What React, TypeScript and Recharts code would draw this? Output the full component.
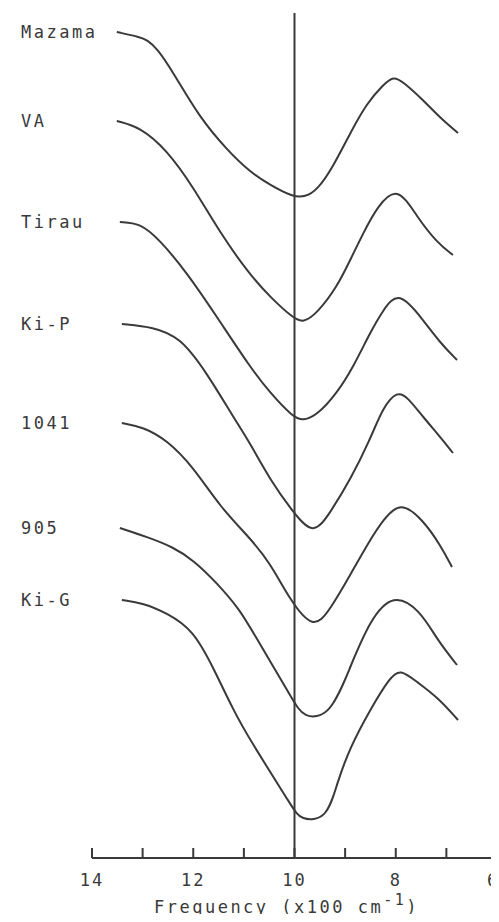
import { LineChart, Line, XAxis, YAxis, ReferenceLine } from 'recharts';

// Frequency in x100 cm^-1, transmittance offset (arbitrary units above the baseline)
const mazama = [
  [13.51, 826], [13.05, 821], [12.91, 818], [12.72, 810], [12.4, 786], [11.87, 740],
  [11.33, 708], [10.88, 686], [10.48, 673], [10.03, 661], [9.79, 661], [9.55, 668],
  [9.24, 691], [8.9, 725], [8.57, 755], [8.25, 773], [8.05, 782], [7.85, 776],
  [7.46, 758], [7.12, 740], [6.77, 725],
];
const va = [
  [13.51, 737], [13.05, 731], [12.52, 708], [12.0, 671], [11.47, 625], [10.88, 583],
  [10.48, 561], [10.03, 540], [9.83, 535], [9.55, 545], [9.16, 571], [8.9, 598],
  [8.64, 625], [8.37, 651], [7.97, 673], [7.58, 641], [7.18, 615], [6.87, 603],
];
const tirau = [
  [13.45, 636], [13.05, 635], [12.66, 618], [12.12, 585], [11.53, 541], [10.88, 491],
  [10.48, 465], [10.03, 441], [9.83, 437], [9.55, 443], [9.16, 465], [8.84, 491],
  [8.51, 525], [8.25, 548], [7.94, 568], [7.46, 538], [7.12, 515], [6.79, 498],
];
const kiP = [
  [13.41, 534], [12.79, 531], [12.26, 521], [11.73, 485], [11.21, 441], [10.88, 415],
  [10.48, 378], [10.03, 346], [9.63, 322], [9.3, 345], [8.9, 378], [8.51, 418],
  [8.25, 451], [7.97, 467], [7.77, 461], [7.46, 441], [7.12, 421], [6.87, 405],
];
const s1041 = [
  [13.41, 435], [12.99, 431], [12.52, 418], [12.0, 391], [11.47, 351], [10.88, 320],
  [10.48, 295], [10.09, 258], [9.63, 228], [9.3, 248], [8.9, 283], [8.51, 318],
  [8.25, 338], [7.91, 357], [7.46, 338], [7.12, 313], [6.89, 291],
];
const s905 = [
  [13.45, 330], [12.91, 321], [12.4, 311], [12.0, 298], [11.53, 275], [11.08, 248],
  [10.88, 231], [10.03, 158], [9.83, 140], [9.3, 141], [8.9, 191], [8.51, 238],
  [8.05, 265], [7.52, 248], [7.18, 218], [6.79, 193],
];
const kiG = [
  [13.41, 258], [12.99, 255], [12.52, 245], [12.0, 228], [11.61, 191], [11.21, 148],
  [10.88, 118], [10.03, 50], [9.89, 38], [9.36, 38], [9.16, 75], [8.9, 111],
  [8.51, 148], [8.11, 181], [7.91, 189], [7.58, 176], [7.18, 161], [6.77, 138],
];

const sampleNames = ['Mazama', 'VA', 'Tirau', 'Ki-P', '1041', '905', 'Ki-G'];
const sampleSeries = [mazama, va, tirau, kiP, s1041, s905, kiG];
const freqTicks = [14, 13, 12, 11, 10, 9, 8, 7, 6];

const INK = '#3a3a3a';
const FONT = '"DejaVu Sans Mono", "Liberation Mono", monospace';

const FreqTick = (props: any) => {
  const { x, y, payload } = props;
  const v = payload.value;
  return (
    <g>
      <line x1={x} x2={x} y1={y} y2={y - 10} stroke={INK} strokeWidth={2} />
      {v % 2 === 0 && (
        <text x={v === 6 ? x - 4 : x} y={y + 28} textAnchor="middle" fontFamily={FONT} fontSize={17} letterSpacing={2} fill={INK}>
          {v}
        </text>
      )}
    </g>
  );
};

const AxisTitle = (props: any) => {
  const { viewBox } = props;
  const cx = viewBox.x + viewBox.width / 2 - 8;
  const y = viewBox.y + 55;
  return (
    <text x={cx} y={y} textAnchor="middle" fontFamily={FONT} fontSize={17} letterSpacing={2.5} fill={INK}>
      Frequency (x100 cm
      <tspan dy={-8} fontSize={15}>-1</tspan>
      <tspan dy={8}>)</tspan>
    </text>
  );
};

export default function App() {
  const data = sampleSeries.map((s) => s.map(([f, t]) => ({ f, t })));
  return (
    <LineChart width={499} height={922} margin={{ top: 13, right: 2, left: 92, bottom: 0 }} style={{ margin: -8, background: '#fff' }}>
      <XAxis
        dataKey="f"
        type="number"
        domain={[6, 14]}
        reversed
        ticks={freqTicks}
        interval={0}
        height={64}
        tickSize={0}
        tickMargin={0}
        tickLine={false}
        tick={<FreqTick />}
        axisLine={{ stroke: INK, strokeWidth: 2 }}
        label={{ content: <AxisTitle /> }}
      />
      <YAxis type="number" dataKey="t" domain={[0, 845]} hide />
      <ReferenceLine x={10} stroke={INK} strokeWidth={2} />
      {data.map((d, i) => (
        <Line
          key={sampleNames[i]}
          data={d}
          dataKey="t"
          type="basis"
          stroke={INK}
          strokeWidth={2}
          dot={false}
          activeDot={false}
          isAnimationActive={false}
          label={(p: any) =>
            p.index === 0 ? (
              <text key="lbl" x={21} y={p.y} dominantBaseline="central" fontFamily={FONT} fontSize={17} letterSpacing={2.5} fill={INK}>
                {sampleNames[i]}
              </text>
            ) : (
              <g key={'n' + p.index} />
            )
          }
        />
      ))}
    </LineChart>
  );
}
